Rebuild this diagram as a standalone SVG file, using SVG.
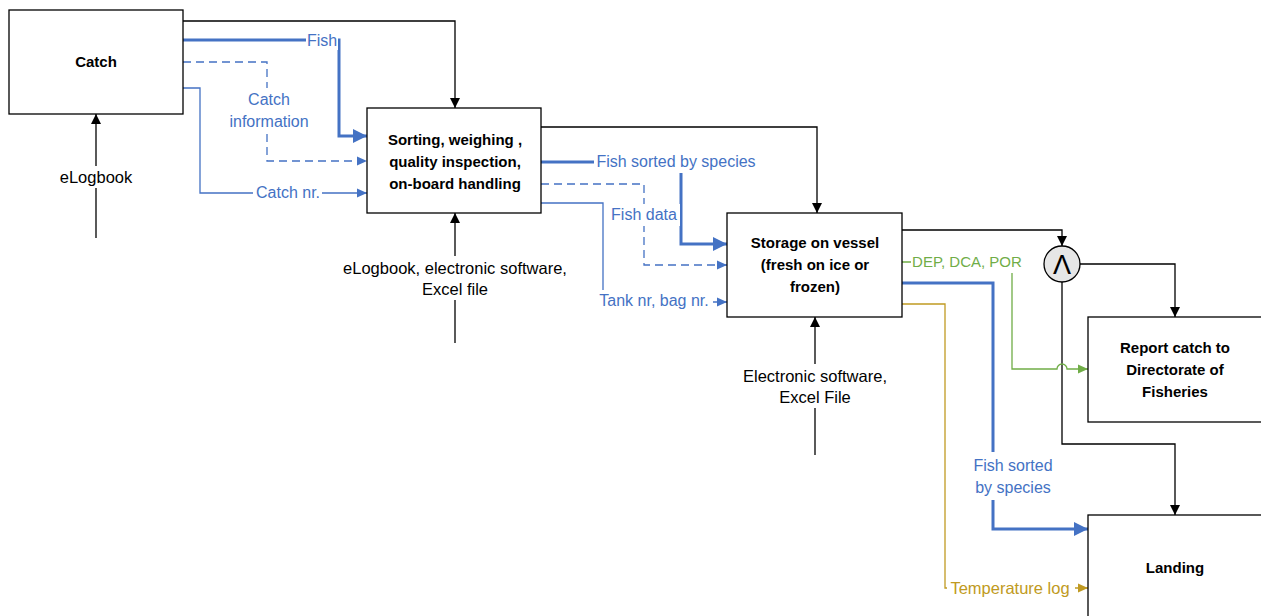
<svg xmlns="http://www.w3.org/2000/svg" width="1261" height="616" viewBox="0 0 1261 616">
<style>
.box{fill:#fff;stroke:#000;stroke-width:1.3}
.bt{font-family:"Liberation Sans",Arial,sans-serif;font-size:15px;font-weight:bold;fill:#000;text-anchor:middle}
.t{font-family:"Liberation Sans",Arial,sans-serif;font-size:16.5px;fill:#000;text-anchor:middle}
.tb{font-family:"Liberation Sans",Arial,sans-serif;font-size:16px;fill:#4472C4;text-anchor:middle}
.tg{font-family:"Liberation Sans",Arial,sans-serif;font-size:15px;fill:#70AD47;text-anchor:middle}
.to{font-family:"Liberation Sans",Arial,sans-serif;font-size:16.5px;fill:#C09A22;text-anchor:middle}
.k{fill:none;stroke:#000;stroke-width:1.3}
.b{fill:none;stroke:#4472C4;stroke-width:1.3}
.bd{fill:none;stroke:#4472C4;stroke-width:1.3;stroke-dasharray:8 5}
.bk{fill:none;stroke:#4472C4;stroke-width:3}
.g{fill:none;stroke:#70AD47;stroke-width:1.3}
.o{fill:none;stroke:#C09A22;stroke-width:1.3}
.bg{fill:#fff}
</style>
<defs>
<marker id="ak" markerUnits="userSpaceOnUse" markerWidth="12" markerHeight="12" refX="10" refY="5" orient="auto"><path d="M0,0 L10,5 L0,10 z" fill="#000"/></marker>
<marker id="ab" markerUnits="userSpaceOnUse" markerWidth="12" markerHeight="12" refX="10" refY="5" orient="auto"><path d="M0,0.5 L10,5 L0,9.5 z" fill="#4472C4"/></marker>
<marker id="abk" markerUnits="userSpaceOnUse" markerWidth="16" markerHeight="16" refX="14" refY="7" orient="auto"><path d="M0,0 L14,7 L0,14 z" fill="#4472C4"/></marker>
<marker id="ag" markerUnits="userSpaceOnUse" markerWidth="12" markerHeight="12" refX="10" refY="5" orient="auto"><path d="M0,0.5 L10,5 L0,9.5 z" fill="#70AD47"/></marker>
<marker id="ao" markerUnits="userSpaceOnUse" markerWidth="12" markerHeight="12" refX="10" refY="5" orient="auto"><path d="M0,0.5 L10,5 L0,9.5 z" fill="#C09A22"/></marker>
</defs>

<g id="connectors">
<path class="k" d="M183 21 H455 V108" marker-end="url(#ak)"/>
<path class="k" d="M541 127 H817 V213" marker-end="url(#ak)"/>
<path class="k" d="M902 230 H1062 V246" marker-end="url(#ak)"/>
<path class="k" d="M1080 264 H1175 V317" marker-end="url(#ak)"/>
<path class="k" d="M1062 282 V444 H1175 V515" marker-end="url(#ak)"/>
<path class="k" d="M96 238 V114" marker-end="url(#ak)"/>
<rect class="bg" x="55" y="166" width="82" height="22"/>
<text class="t" x="96" y="183">eLogbook</text>
<path class="k" d="M455 343 V213" marker-end="url(#ak)"/>
<rect class="bg" x="334" y="256" width="242" height="44"/>
<text class="t" x="455" y="274">eLogbook, electronic software,</text>
<text class="t" x="455" y="295">Excel file</text>
<path class="k" d="M815 455 V317" marker-end="url(#ak)"/>
<rect class="bg" x="734" y="364" width="162" height="44"/>
<text class="t" x="815" y="382">Electronic software,</text>
<text class="t" x="815" y="403">Excel File</text>

<path class="bk" d="M183 40 H339 V136 H367" marker-end="url(#abk)"/>
<rect class="bg" x="306" y="30" width="32" height="20"/>
<text class="tb" x="322" y="46">Fish</text>
<path class="bd" d="M183 62 H267 V161 H367" marker-end="url(#ab)"/>
<rect class="bg" x="230" y="88" width="78" height="46"/>
<text class="tb" x="269" y="105">Catch</text>
<text class="tb" x="269" y="127">information</text>
<path class="b" d="M183 88 H200 V193 H367" marker-end="url(#ab)"/>
<rect class="bg" x="253" y="183" width="69" height="20"/>
<text class="tb" x="288" y="198">Catch nr.</text>

<path class="bk" d="M541 162 H681 V244 H727" marker-end="url(#abk)"/>
<rect class="bg" x="594" y="151" width="165" height="22"/>
<text class="tb" x="676" y="167">Fish sorted by species</text>
<path class="bd" d="M541 184 H644 V265 H727" marker-end="url(#ab)"/>
<rect class="bg" x="608" y="204" width="72" height="22"/>
<text class="tb" x="644" y="220">Fish data</text>
<path class="b" d="M541 203 H603 V302 H727" marker-end="url(#ab)"/>
<rect class="bg" x="596" y="290" width="117" height="22"/>
<text class="tb" x="654" y="306">Tank nr, bag nr.</text>

<path class="g" d="M902 262 H1012 V369 H1057 A5 5 0 0 1 1067 369 H1088" marker-end="url(#ag)"/>
<rect class="bg" x="911" y="251" width="113" height="22"/>
<text class="tg" x="967" y="267">DEP, DCA, POR</text>
<path class="bk" d="M902 283 H993 V529 H1088" marker-end="url(#abk)"/>
<rect class="bg" x="966" y="452" width="94" height="48"/>
<text class="tb" x="1013" y="471">Fish sorted</text>
<text class="tb" x="1013" y="493">by species</text>
<path class="o" d="M902 304 H945 V588 H1088" marker-end="url(#ao)"/>
<rect class="bg" x="947" y="577" width="128" height="22"/>
<text class="to" x="1010" y="594">Temperature log</text>
</g>

<g id="catch">
<rect class="box" x="9" y="10" width="174" height="104"/>
<text class="bt" x="96" y="67">Catch</text>
</g>
<g id="sorting">
<rect class="box" x="367" y="108" width="174" height="105"/>
<text class="bt" x="455" y="145">Sorting, weighing ,</text>
<text class="bt" x="455" y="167">quality inspection,</text>
<text class="bt" x="455" y="189">on-board handling</text>
</g>
<g id="storage">
<rect class="box" x="727" y="213" width="175" height="104"/>
<text class="bt" x="815" y="248">Storage on vessel</text>
<text class="bt" x="815" y="270">(fresh on ice or</text>
<text class="bt" x="815" y="292">frozen)</text>
</g>
<g id="and-gate">
<circle cx="1062" cy="264" r="18" fill="#e6e6e6" stroke="#000" stroke-width="1.3"/>
<text x="1062" y="274" font-family="'Liberation Sans',Arial,sans-serif" font-size="27" text-anchor="middle" fill="#000">Λ</text>
</g>
<g id="report">
<rect class="box" x="1088" y="317" width="200" height="105"/>
<text class="bt" x="1175" y="353">Report catch to</text>
<text class="bt" x="1175" y="375">Directorate of</text>
<text class="bt" x="1175" y="397">Fisheries</text>
</g>
<g id="landing">
<rect class="box" x="1088" y="515" width="200" height="120"/>
<text class="bt" x="1175" y="573">Landing</text>
</g>
</svg>
